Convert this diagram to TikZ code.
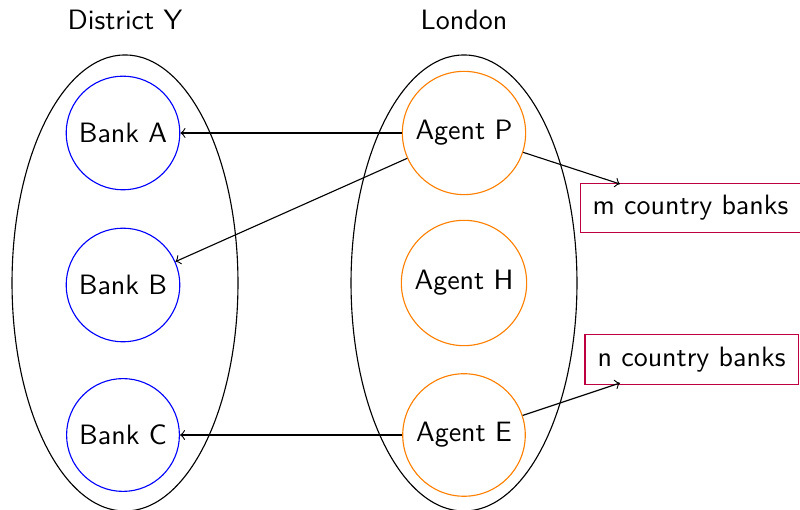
\documentclass[tikz,border=0pt]{standalone}
\usetikzlibrary{shapes.geometric}
\begin{document}
\begin{tikzpicture}[x=0.35714pt,y=-0.35714pt,
  font=\sffamily,
  bank/.style={circle,draw=blue},
  agent/.style={circle,draw=orange},
  group/.style={ellipse,draw=black,inner sep=0pt,minimum width=80.7pt,minimum height=162.9pt},
  title/.style={anchor=base},
  cbox/.style={rectangle,draw=purple,inner xsep=4.5pt,inner ysep=4.3pt},
  link/.style={->}]
\useasboundingbox (0,0) rectangle (800,510);
\node[group] (gy) at (125,283) {};
\node[group] (gl) at (464,283) {};
\node[title] (ty) at (125,30) {District Y};
\node[title] (tl) at (464,30) {London};
\node[bank] (A) at (123,133) {Bank A};
\node[bank] (B) at (123,285) {Bank B};
\node[bank] (C) at (123,435) {Bank C};
\node[agent] (P) at (464,133) {Agent P};
\node[agent] (H) at (464,283) {Agent H};
\node[agent] (E) at (464,435) {Agent E};
\node[cbox] (m) at (690.5,208) {m country banks};
\node[cbox] (n) at (691.5,359.5) {n country banks};
\coordinate (mc) at (620,184);
\coordinate (nc) at (620,383);
\draw[link] (P) -- (A);
\draw[link] (P) -- (B);
\draw[link] (E) -- (C);
\draw[link] (P) -- (mc);
\draw[link] (E) -- (nc);
\end{tikzpicture}
\end{document}
